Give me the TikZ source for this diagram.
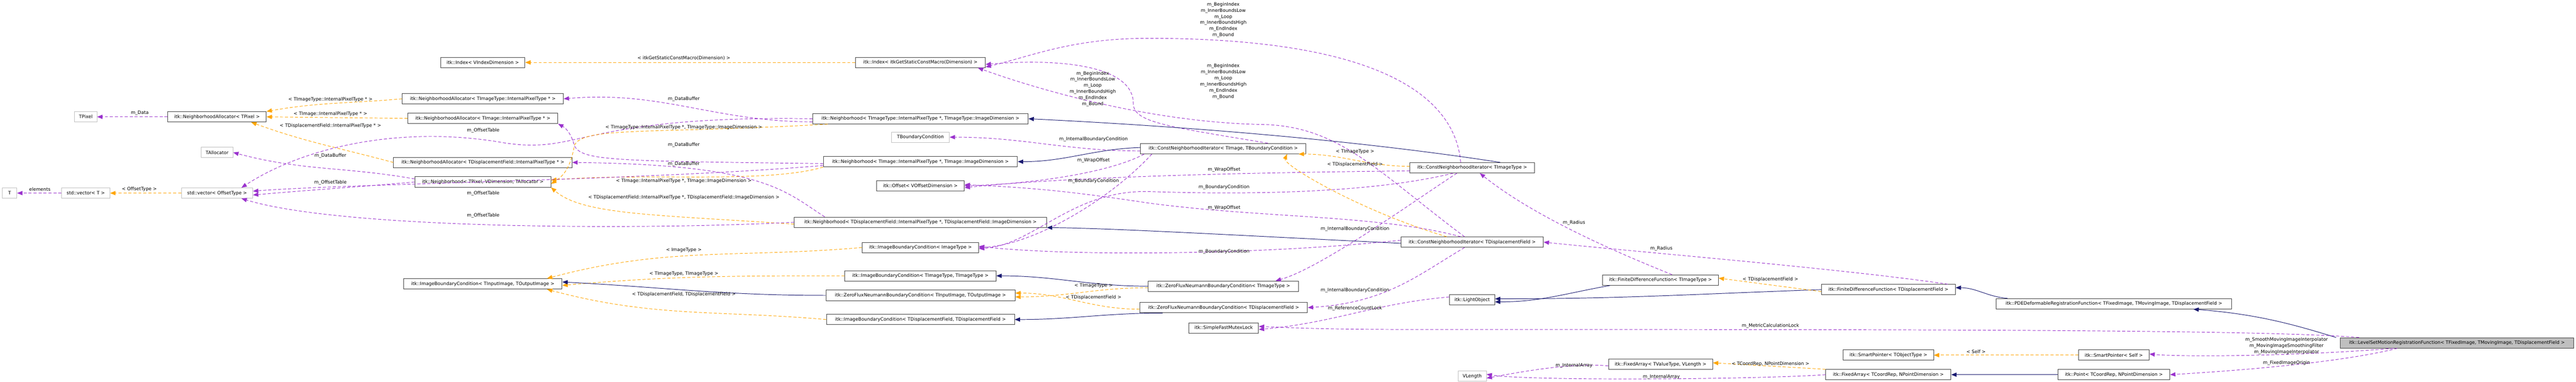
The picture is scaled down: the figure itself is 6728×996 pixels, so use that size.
\documentclass[tikz,border=0pt]{standalone}
\usepackage{fontspec}
\setmainfont{DejaVu Sans}
\usetikzlibrary{arrows.meta}
\definecolor{mem}{HTML}{9A32CD}
\definecolor{tpl}{HTML}{FFA500}
\definecolor{inh}{HTML}{191970}
\definecolor{gb}{HTML}{BFBFBF}
\begin{document}
\begin{tikzpicture}[x=1pt,y=-1pt,
  every node/.style={font=\fontsize{12}{16}\selectfont, inner sep=0pt},
  box/.style={draw=black!75, line width=1.3pt, minimum height=27pt, fill=white},
  gbox/.style={draw=gb, line width=1.3pt, minimum height=27pt, fill=white},
  mainbox/.style={draw=black!75, line width=1.3pt, minimum height=27pt, fill=gb},
  lab/.style={align=center, fill=none},
  mem/.style={draw=mem, dashed, dash pattern=on 8pt off 5pt, line width=1.3pt, -{Triangle[length=14pt,width=11pt]}},
  tpl/.style={draw=tpl, dashed, dash pattern=on 8pt off 5pt, line width=1.3pt, -{Triangle[length=14pt,width=11pt]}},
  inh/.style={draw=inh, line width=1.3pt, -{Triangle[length=14pt,width=11pt]}}]
\useasboundingbox (0,0) rectangle (6728,996);
% nodes
\node[gbox,minimum width=38] (T) at (25,504) {T};
\node[gbox,minimum width=126] (vecT) at (224,504) {std::vector< T >};
\node[gbox,minimum width=186] (vecO) at (567,504) {std::vector< OffsetType >};
\node[gbox,minimum width=58] (TPixel) at (224,305) {TPixel};
\node[box,minimum width=257] (NAP) at (567,305) {itk::NeighborhoodAllocator< TPixel >};
\node[gbox,minimum width=83] (TAlloc) at (567,398) {TAllocator};
\node[box,minimum width=220] (IdxV) at (1261,163) {itk::Index< VIndexDimension >};
\node[box,minimum width=421] (NA1) at (1261,258) {itk::NeighborhoodAllocator< TImageType::InternalPixelType * >};
\node[box,minimum width=392] (NA2) at (1261,309) {itk::NeighborhoodAllocator< TImage::InternalPixelType * >};
\node[box,minimum width=466] (NA3) at (1261,424) {itk::NeighborhoodAllocator< TDisplacementField::InternalPixelType * >};
\node[box,minimum width=355] (NbP) at (1261,475) {itk::Neighborhood< TPixel, VDimension, TAllocator >};
\node[box,minimum width=414] (IBCio) at (1261,741) {itk::ImageBoundaryCondition< TInputImage, TOutputImage >};
\node[box,minimum width=339] (IdxD) at (2404,163) {itk::Index< itkGetStaticConstMacro(Dimension) >};
\node[box,minimum width=563] (Nb1) at (2404,310) {itk::Neighborhood< TImageType::InternalPixelType *, TImageType::ImageDimension >};
\node[gbox,minimum width=151] (TBC) at (2404,358) {TBoundaryCondition};
\node[box,minimum width=507] (Nb2) at (2404,422) {itk::Neighborhood< TImage::InternalPixelType *, TImage::ImageDimension >};
\node[box,minimum width=229] (Off) at (2404,485) {itk::Offset< VOffsetDimension >};
\node[box,minimum width=659] (Nb3) at (2404,580) {itk::Neighborhood< TDisplacementField::InternalPixelType *, TDisplacementField::ImageDimension >};
\node[box,minimum width=304] (IBCimg) at (2404,646) {itk::ImageBoundaryCondition< ImageType >};
\node[box,minimum width=395] (IBCtt) at (2404,720) {itk::ImageBoundaryCondition< TImageType, TImageType >};
\node[box,minimum width=494] (ZFio) at (2404,771) {itk::ZeroFluxNeumannBoundaryCondition< TInputImage, TOutputImage >};
\node[box,minimum width=491] (IBCdd) at (2404,834) {itk::ImageBoundaryCondition< TDisplacementField, TDisplacementField >};
\node[box,minimum width=432] (CNI) at (3195,388) {itk::ConstNeighborhoodIterator< TImage, TBoundaryCondition >};
\node[box,minimum width=392] (ZFt) at (3195,747) {itk::ZeroFluxNeumannBoundaryCondition< TImageType >};
\node[box,minimum width=438] (ZFd) at (3196,803) {itk::ZeroFluxNeumannBoundaryCondition< TDisplacementField >};
\node[box,minimum width=182] (SFML) at (3196,856) {itk::SimpleFastMutexLock};
\node[box,minimum width=325] (CNIt) at (3845,438) {itk::ConstNeighborhoodIterator< TImageType >};
\node[box,minimum width=372] (CNId) at (3845,632) {itk::ConstNeighborhoodIterator< TDisplacementField >};
\node[box,minimum width=118] (LO) at (3845,783) {itk::LightObject};
\node[gbox,minimum width=74] (VL) at (3845,982) {VLength};
\node[box,minimum width=302] (FDFt) at (4337,731) {itk::FiniteDifferenceFunction< TImageType >};
\node[box,minimum width=272] (FAv) at (4337,951) {itk::FixedArray< TValueType, VLength >};
\node[box,minimum width=350] (FDFd) at (4932,756) {itk::FiniteDifferenceFunction< TDisplacementField >};
\node[box,minimum width=236] (SPo) at (4932,927) {itk::SmartPointer< TObjectType >};
\node[box,minimum width=327] (FAc) at (4932,978) {itk::FixedArray< TCoordRep, NPointDimension >};
\node[box,minimum width=614] (PDE) at (5521,793) {itk::PDEDeformableRegistrationFunction< TFixedImage, TMovingImage, TDisplacementField >};
\node[box,minimum width=184] (SPs) at (5521,927) {itk::SmartPointer< Self >};
\node[box,minimum width=292] (Pt) at (5521,978) {itk::Point< TCoordRep, NPointDimension >};
\node[mainbox,minimum width=610] (LS) at (6417,895) {itk::LevelSetMotionRegistrationFunction< TFixedImage, TMovingImage, TDisplacementField >};
% edges, left part
\draw[mem] (vecT.west) -- (T.east);
\draw[tpl] (vecO.west) -- (vecT.east);
\draw[mem] (NAP.west) -- (TPixel.east);
\draw[tpl] (NA1.west) to[out=185,in=10] (NAP.north east);
\draw[tpl] (NA2.west) -- (NAP.east);
\draw[tpl] (NA3.west) to[out=165,in=-20] ([xshift=-40]NAP.south east);
\draw[mem] ([yshift=8]NbP.west) to[out=170,in=-15] (TAlloc.east);
\draw[mem] (NbP.west) to[out=185,in=5] ([yshift=-5]vecO.east);
\draw[tpl] (IdxD.west) -- (IdxV.east);
\draw[mem] ([yshift=-8]Nb1.west) to[out=180,in=5] (NA1.east);
\draw[mem] (Nb1.west) .. controls (1500,300) and (1520,410) .. (1300,370) .. controls (1050,330) and (800,380) .. ([xshift=-30]vecO.north east);
\draw[tpl] ([xshift=40]Nb1.south west) .. controls (1700,350) and (1520,330) .. (1500,380) .. controls (1490,440) and (1470,460) .. ([yshift=-5]NbP.east);
\draw[mem] ([yshift=-5]Nb2.west) .. controls (1600,420) and (1520,420) .. (1500,380) .. controls (1490,340) and (1470,330) .. (NA2.south east);
\draw[tpl] (Nb2.south west) .. controls (2000,480) and (1700,450) .. ([yshift=5]NbP.east);
\draw[mem] ([yshift=-10]Nb2.west) .. controls (1700,470) and (900,480) .. ([yshift=5]vecO.east);
\draw[mem] ([xshift=80]Nb3.north west) .. controls (2050,500) and (2000,430) .. (NA3.east);
\draw[tpl] ([yshift=-5]Nb3.west) .. controls (1700,560) and (1520,560) .. (NbP.south east);
\draw[mem] (Nb3.west) .. controls (1700,600) and (900,600) .. ([xshift=-30]vecO.south east);
\draw[tpl] (IBCimg.west) to[out=185,in=15] ([xshift=-40]IBCio.north east);
\draw[tpl] (IBCtt.west) to[out=180,in=5] ([yshift=-4]IBCio.east);
\draw[inh] (ZFio.west) to[out=180,in=-3] ([yshift=5]IBCio.east);
\draw[tpl] (IBCdd.west) to[out=175,in=-15] ([xshift=-40]IBCio.south east);
% middle
\draw[mem] ([xshift=-100]CNI.north east) .. controls (3050,330) and (2960,320) .. (2960,270) .. controls (2960,180) and (2800,150) .. ([yshift=-5]IdxD.east);
\draw[mem] ([yshift=-6]CNI.west) to[out=180,in=0] (TBC.east);
\draw[inh] ([yshift=3]CNI.west) to[out=182,in=0] (Nb2.east);
\draw[mem] ([xshift=10]CNI.south west) .. controls (2900,450) and (2700,480) .. (Off.east);
\draw[mem] ([xshift=30]CNI.south west) .. controls (2900,520) and (2700,640) .. (IBCimg.east);
\draw[tpl] ([yshift=4]CNIt.west) to[out=180,in=0] ([xshift=-20]CNI.south east);
\draw[tpl] ([xshift=120]CNId.north west) .. controls (3550,550) and (3350,430) .. ([xshift=-50]CNI.south east);
\draw[mem] ([xshift=-30]CNIt.north) .. controls (3800,250) and (3600,100) .. (3000,100) .. controls (2800,100) and (2700,145) .. ([yshift=-12]IdxD.east);
\draw[mem] ([xshift=-20]CNId.north) .. controls (3600,450) and (3500,330) .. (3300,325) .. controls (3000,320) and (2700,230) .. ([xshift=-20]IdxD.south east);
\draw[inh] ([xshift=-90]CNIt.north east) .. controls (3700,390) and (3300,340) .. (Nb1.east);
\draw[mem] ([yshift=-8]CNIt.west) .. controls (3300,450) and (2800,460) .. ([yshift=-5]Off.east);
\draw[mem] ([xshift=-50]CNIt.south) .. controls (3600,500) and (3300,510) .. (3000,500) .. controls (2800,495) and (2700,640) .. ([yshift=-3]IBCimg.east);
\draw[mem] ([xshift=-40]CNIt.south) .. controls (3700,520) and (3450,700) .. ([xshift=-60]ZFt.north east);
\draw[inh] ([yshift=-3]CNId.west) .. controls (3300,618) and (2900,595) .. (Nb3.south east);
\draw[mem] ([xshift=-30]CNId.north) .. controls (3600,560) and (3300,570) .. (3000,530) .. controls (2800,500) and (2700,490) .. ([yshift=3]Off.east);
\draw[mem] ([yshift=5]CNId.west) .. controls (3300,665) and (2800,670) .. ([yshift=3]IBCimg.east);
\draw[mem] ([xshift=-20]CNId.south) .. controls (3700,720) and (3620,790) .. (ZFd.east);
\draw[tpl] ([yshift=-4]ZFt.west) to[out=180,in=0] ([yshift=-4]ZFio.east);
\draw[tpl] ([yshift=-4]ZFd.west) to[out=180,in=0] ([yshift=6]ZFio.east);
\draw[inh] (ZFt.west) to[out=180,in=0] (IBCtt.east);
\draw[inh] ([xshift=60]ZFd.south west) to[out=180,in=0] (IBCdd.east);
\draw[mem] ([yshift=8]LO.west) to[out=185,in=5] ([yshift=-4]SFML.east);
% right
\draw[inh] ([xshift=20]FDFt.south west) to[out=190,in=0] ([yshift=-5]LO.east);
\draw[inh] (FDFd.west) to[out=182,in=0] ([yshift=3]LO.east);
\draw[mem] ([xshift=30]FDFt.north) .. controls (4200,650) and (4000,560) .. ([xshift=20]CNIt.south);
\draw[mem] ([xshift=-20]FDFd.north east) .. controls (4800,700) and (4300,660) .. (CNId.east);
\draw[tpl] ([yshift=-5]FDFd.west) -- ([yshift=5]FDFt.east);
\draw[inh] ([xshift=30]PDE.north west) to[out=175,in=0] ([yshift=5]FDFd.east);
\draw[inh] ([xshift=-10]LS.north west) .. controls (6000,850) and (5900,820) .. ([xshift=-100]PDE.south east);
\draw[mem] ([xshift=50]LS.north west) .. controls (5900,860) and (5000,860) .. (3700,860) .. controls (3500,860) and (3400,857) .. ([yshift=4]SFML.east);
\draw[mem] ([yshift=-4]FAv.west) .. controls (4100,945) and (3950,975) .. ([yshift=-5]VL.east);
\draw[mem] (FAc.west) .. controls (4600,990) and (4000,995) .. ([yshift=5]VL.east);
\draw[tpl] (FAc.north west) -- ([yshift=4]FAv.east);
\draw[tpl] (SPs.west) -- (SPo.east);
\draw[inh] (Pt.west) -- (FAc.east);
\draw[mem] ([xshift=140]LS.south west) .. controls (6000,930) and (5700,932) .. ([yshift=3]SPs.east);
\draw[mem] ([xshift=150]LS.south west) .. controls (6100,950) and (5800,970) .. (Pt.east);
% labels
\node[lab] (l1) at (104,494) {elements};
\node[lab] (l2) at (364,494) {< OffsetType >};
\node[lab] (l3) at (365,295) {m\_Data};
\node[lab] (l4) at (863,260) {< TImageType::InternalPixelType * >};
\node[lab] (l5) at (863,297) {< TImage::InternalPixelType * >};
\node[lab] (l6) at (863,328) {< TDisplacementField::InternalPixelType * >};
\node[lab] (l7) at (863,407) {m\_DataBuffer};
\node[lab] (l8) at (863,477) {m\_OffsetTable};
\node[lab] (l9) at (1786,152) {< itkGetStaticConstMacro(Dimension) >};
\node[lab] (l10) at (1786,258) {m\_DataBuffer};
\node[lab] (l11) at (1262,341) {m\_OffsetTable};
\node[lab] (l12) at (1786,333) {< TImageType::InternalPixelType *, TImageType::ImageDimension >};
\node[lab] (l13) at (1786,378) {m\_DataBuffer};
\node[lab] (l14) at (1786,428) {m\_DataBuffer};
\node[lab] (l15) at (1786,472) {< TImage::InternalPixelType *, TImage::ImageDimension >};
\node[lab] (l16) at (1262,505) {m\_OffsetTable};
\node[lab] (l17) at (1786,515) {< TDisplacementField::InternalPixelType *, TDisplacementField::ImageDimension >};
\node[lab] (l18) at (1262,563) {m\_OffsetTable};
\node[lab] (l19) at (1786,653) {< ImageType >};
\node[lab] (l20) at (1786,715) {< TImageType, TImageType >};
\node[lab] (l21) at (1786,769) {< TDisplacementField, TDisplacementField >};
\node[lab] (l22) at (2854,232) {m\_BeginIndex\\m\_InnerBoundsLow\\m\_Loop\\m\_InnerBoundsHigh\\m\_EndIndex\\m\_Bound};
\node[lab] (l23) at (2856,364) {m\_InternalBoundaryCondition};
\node[lab] (l24) at (2856,419) {m\_WrapOffset};
\node[lab] (l25) at (2856,472) {m\_BoundaryCondition};
\node[lab] (l26) at (2856,746) {< TImageType >};
\node[lab] (l27) at (2856,777) {< TDisplacementField >};
\node[lab] (l28) at (3195,52) {m\_BeginIndex\\m\_InnerBoundsLow\\m\_Loop\\m\_InnerBoundsHigh\\m\_EndIndex\\m\_Bound};
\node[lab] (l29) at (3195,213) {m\_BeginIndex\\m\_InnerBoundsLow\\m\_Loop\\m\_InnerBoundsHigh\\m\_EndIndex\\m\_Bound};
\node[lab] (l30) at (3539,396) {< TImageType >};
\node[lab] (l31) at (3539,429) {< TDisplacementField >};
\node[lab] (l32) at (3197,443) {m\_WrapOffset};
\node[lab] (l33) at (3197,488) {m\_BoundaryCondition};
\node[lab] (l34) at (3197,542) {m\_WrapOffset};
\node[lab] (l35) at (3539,597) {m\_InternalBoundaryCondition};
\node[lab] (l36) at (3197,657) {m\_BoundaryCondition};
\node[lab] (l37) at (3539,758) {m\_InternalBoundaryCondition};
\node[lab] (l38) at (3539,805) {m\_ReferenceCountLock};
\node[lab] (l39) at (4111,581) {m\_Radius};
\node[lab] (l40) at (4339,649) {m\_Radius};
\node[lab] (l41) at (4624,730) {< TDisplacementField >};
\node[lab] (l42) at (4624,850) {m\_MetricCalculationLock};
\node[lab] (l43) at (4111,954) {m\_InternalArray};
\node[lab] (l44) at (4339,984) {m\_InternalArray};
\node[lab] (l45) at (4624,950) {< TCoordRep, NPointDimension >};
\node[lab] (l46) at (5161,918) {< Self >};
\node[lab] (l47) at (5972,903) {m\_SmoothMovingImageInterpolator\\m\_MovingImageSmoothingFilter\\m\_MovingImageInterpolator};
\node[lab] (l48) at (5972,947) {m\_FixedImageOrigin};
\end{tikzpicture}
\end{document}
